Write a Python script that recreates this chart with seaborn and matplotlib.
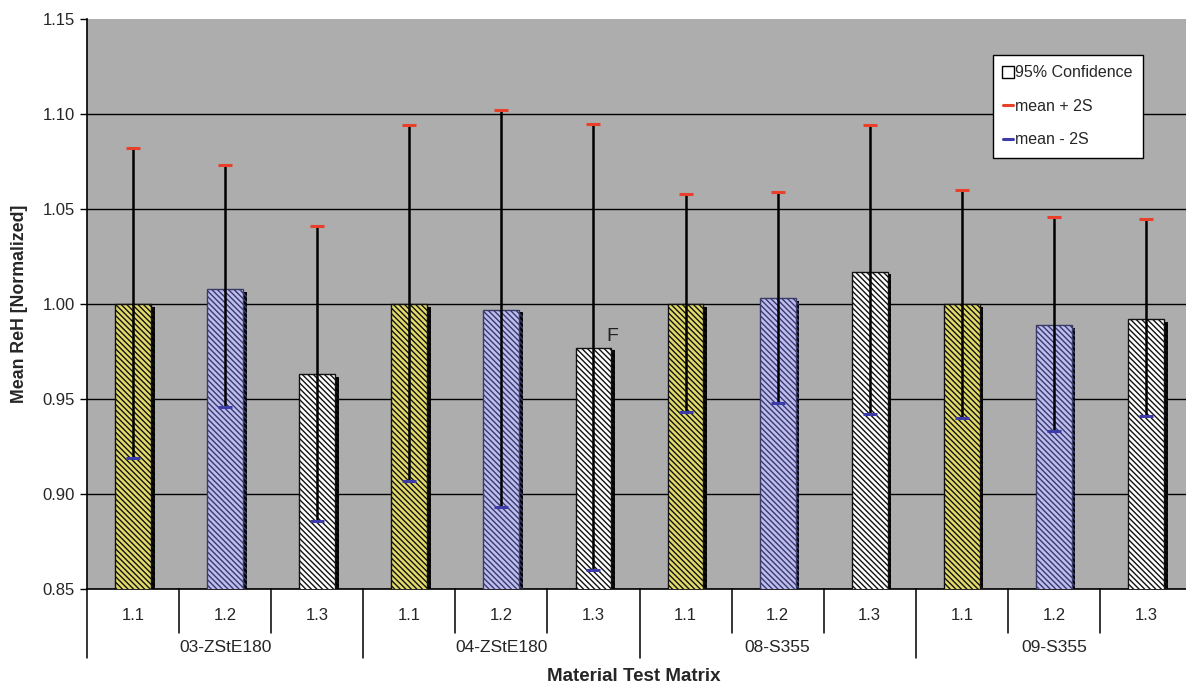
import numpy as np
import pandas as pd
import matplotlib
matplotlib.use('Agg')
import matplotlib.pyplot as plt
import matplotlib.patheffects as pe
from matplotlib.lines import Line2D
import seaborn as sns

# data
groups = ['03-ZStE180', '04-ZStE180', '08-S355', '09-S355']
subs = ['1.1', '1.2', '1.3']
mean_vals = [1.000, 1.008, 0.963, 1.000, 0.997, 0.977, 1.000, 1.003, 1.017, 1.000, 0.989, 0.992]
upper_vals = [1.082, 1.073, 1.041, 1.094, 1.102, 1.095, 1.058, 1.059, 1.094, 1.060, 1.046, 1.045]
lower_vals = [0.919, 0.946, 0.886, 0.907, 0.893, 0.860, 0.943, 0.948, 0.942, 0.940, 0.933, 0.941]
yticks = [0.85, 0.90, 0.95, 1.00, 1.05, 1.10, 1.15]

sub_face = {'1.1': '#e2db6a', '1.2': '#bdbdf2', '1.3': '#ffffff'}
sub_hatch = {'1.1': '#111111', '1.2': '#3a3a66', '1.3': '#111111'}

labels = [g + ' ' + s for g in groups for s in subs]
sub_col = [s for g in groups for s in subs]
df = pd.DataFrame({'label': labels, 'sub': sub_col, 'mean': mean_vals,
                   'upper': upper_vals, 'lower': lower_vals})

sns.set_theme(style='white')
plt.rcParams['font.family'] = ['Liberation Sans', 'DejaVu Sans']
plt.rcParams['hatch.linewidth'] = 1.0

fig = plt.figure(figsize=(11.86, 6.88), dpi=100)
ax = fig.add_axes([87 / 1186, 1 - 589 / 688, 1105 / 1186, 570 / 688])
ax.set_facecolor('#adadad')

palette = [sub_face[s] for s in sub_col]
sns.barplot(data=df, x='label', y='mean', hue='label', palette=palette,
            width=0.39, legend=False, ax=ax, saturation=1, zorder=3)

for patch, s in zip(ax.patches, sub_col):
    patch.set_hatch('\\\\\\\\\\\\')
    patch.set_edgecolor(sub_hatch[s])
    patch.set_linewidth(1.0)
    patch.set_path_effects([pe.SimplePatchShadow(offset=(2.6, -2.0), shadow_rgbFace='black', alpha=1.0),
                            pe.Normal()])

pos = np.arange(len(labels))
ax.vlines(pos, df['lower'], df['upper'], color='black', lw=1.8, zorder=4)
ax.scatter(pos, df['upper'], marker='_', s=110, linewidths=2.2, color='#e8402a', zorder=5)
ax.scatter(pos, df['lower'], marker='_', s=110, linewidths=2.2, color='#3c3ca8', zorder=5)

ax.text(5.2, 0.983, 'F', fontsize=14, color='#222222', ha='center', va='center', zorder=6)

ax.set_ylim(0.85, 1.15)
ax.set_xlim(-0.5, len(labels) - 0.5)
ax.set_yticks(yticks)
ax.set_yticklabels(['%.2f' % v for v in yticks], fontsize=12)
ax.yaxis.grid(True, color='black', lw=1.0)
ax.yaxis.get_gridlines()[-1].set_visible(False)
ax.set_axisbelow(True)
ax.tick_params(axis='y', left=True, length=5, width=1, color='black', pad=4)

ax.set_xticks(pos)
ax.set_xticklabels(sub_col, fontsize=12)
ax.tick_params(axis='x', bottom=False, length=0, pad=14)

for side in ['top', 'right']:
    ax.spines[side].set_visible(False)
ax.spines['bottom'].set_color('black')
ax.spines['left'].set_color('black')
ax.spines['bottom'].set_linewidth(1.2)
ax.spines['left'].set_linewidth(1.2)

# category axis separators
trans = ax.get_xaxis_transform()
for i in range(len(labels) + 1):
    x = i - 0.5
    y_end = -0.121 if i % 3 == 0 else -0.0772
    ax.plot([x, x], [0, y_end], color='black', lw=1.1, transform=trans, clip_on=False)
for gi, g in enumerate(groups):
    ax.text(gi * 3 + 1, -0.102, g, fontsize=12.5, ha='center', va='center', transform=trans)

ax.set_xlabel('Material Test Matrix', fontsize=13.5, fontweight='bold')
ax.set_ylabel('Mean ReH [Normalized]', fontsize=12.8, fontweight='bold', labelpad=10)
ax.xaxis.label.set_va('center')
ax.xaxis.set_label_coords((634 - 87) / 1105, -0.154)

handles = [
    Line2D([], [], marker='s', markersize=8, markerfacecolor='white', markeredgecolor='black',
           markeredgewidth=1.0, linestyle='none'),
    Line2D([], [], color='#e8402a', lw=2.2),
    Line2D([], [], color='#3c3ca8', lw=2.2),
]
leg = ax.legend(handles, ['95% Confidence', 'mean + 2S', 'mean - 2S'],
                loc='upper left', bbox_to_anchor=(0.8195, 0.9368), borderaxespad=0,
                fontsize=11.5, frameon=True, fancybox=False, framealpha=1,
                edgecolor='black', handlelength=0.6, handletextpad=0.15,
                labelspacing=1.15, borderpad=0.65)
leg.get_frame().set_linewidth(1.0)
leg.set_zorder(10)

fig.savefig('out.png', dpi=100)
